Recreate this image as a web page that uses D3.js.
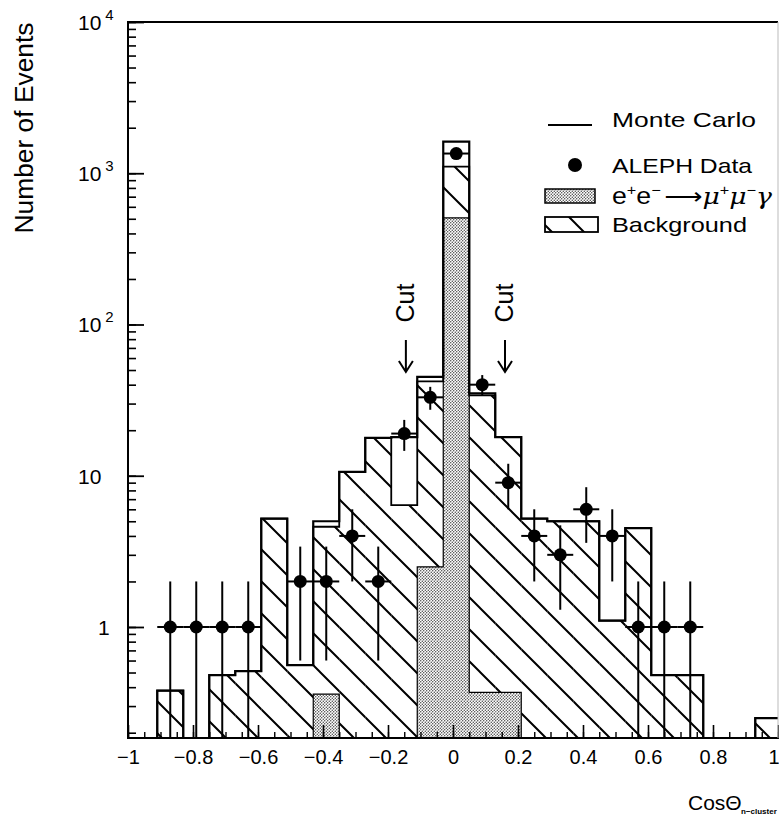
<!DOCTYPE html>
<html>
<head>
<meta charset="utf-8">
<script src="https://cdn.jsdelivr.net/npm/d3@7"></script>
<style>
  body { margin: 0; background: #fff; }
  text { font-family: "Liberation Sans", Arial, sans-serif; fill: #000; }
</style>
</head>
<body>
<div id="chart"></div>
<script>
// Histogram bins (bin centres in cos theta, width 0.08)
var binCenters = [-0.87, -0.79, -0.71, -0.63, -0.55, -0.47, -0.39, -0.31, -0.23, -0.15, -0.07, 0.01,
                  0.09, 0.17, 0.25, 0.33, 0.41, 0.49, 0.57, 0.65, 0.73, 0.81, 0.89, 0.97];
var binWidth = 0.08;

// Monte Carlo total, background and signal (e+e- -> mu+mu-gamma)
var mcTotal    = [0.38, 0, 0.48, 0.51, 5.2, 0.56, 5.0, 10.6, 17.8, 18, 45, 1620,
                  35, 18, 5.2, 5.0, 5.0, 1.1, 4.5, 0.48, 0.48, 0, 0, 0.25];
var background = [0.38, 0, 0.48, 0.51, 5.2, 0.56, 4.6, 10.6, 17.8, 6.4, 42, 1107,
                  34, 18, 5.2, 5.0, 5.0, 1.1, 4.5, 0.48, 0.48, 0, 0, 0.25];
var signal     = [0, 0, 0, 0, 0, 0, 0.36, 0, 0, 0, 2.5, 507,
                  0.37, 0.37, 0, 0, 0, 0, 0, 0, 0, 0, 0, 0];

// ALEPH data points and their errors
var alephData = [1, 1, 1, 1, 0, 2, 2, 4, 2, 19, 33, 1350, 40, 9, 4, 3, 6, 4, 1, 1, 1, 0, 0, 0];
var alephErr  = [1, 1, 1, 1, 0, 1.4, 1.4, 2, 1.4, 4.4, 5.7, 37, 6.3, 3, 2, 1.7, 2.4, 2, 1, 1, 1, 0, 0, 0];

// cut positions
var cutPositions = [-0.145, 0.16];

// tick labels
var xTickValues = [-1, -0.8, -0.6, -0.4, -0.2, 0, 0.2, 0.4, 0.6, 0.8, 1];
var xTickLabels = ["\u22121", "\u22120.8", "\u22120.6", "\u22120.4", "\u22120.2", "0", "0.2", "0.4", "0.6", "0.8", "1"];
var yTickValues = [1, 10, 100, 1000, 10000];
var yLabelBase = ["1", "10", "10", "10", "10"];
var yLabelExp  = ["", "", "2", "3", "4"];

// SVG area
var svgWidth = 779;
var svgHeight = 818;
var plot = { left: 128, right: 778, top: 22, bottom: 738 };

var svg = d3.select("#chart")
  .append("svg")
  .attr("width", svgWidth)
  .attr("height", svgHeight);

var defs = svg.append("defs");

// hatch pattern for background
var hatch = defs.append("pattern")
  .attr("id", "hatch")
  .attr("patternUnits", "userSpaceOnUse")
  .attr("width", 32).attr("height", 32);
hatch.append("path")
  .attr("d", "M0,0L32,32M0,-32L64,32M-32,0L32,64")
  .attr("stroke", "#000").attr("stroke-width", 2).attr("fill", "none");

// stipple pattern for signal
var stip = defs.append("pattern")
  .attr("id", "stipple")
  .attr("patternUnits", "userSpaceOnUse")
  .attr("width", 3).attr("height", 3);
stip.append("rect").attr("width", 3).attr("height", 3).attr("fill", "#fff");
stip.append("circle").attr("cx", 0.75).attr("cy", 0.75).attr("r", 0.7).attr("fill", "#333");
stip.append("circle").attr("cx", 2.25).attr("cy", 2.25).attr("r", 0.7).attr("fill", "#333");

defs.append("clipPath").attr("id", "plotClip")
  .append("rect")
  .attr("x", plot.left).attr("y", plot.top)
  .attr("width", plot.right - plot.left).attr("height", plot.bottom - plot.top);

// scales
var yMin = 0.1845, yMax = 10000;
var xScale = d3.scaleLinear().domain([-1, 1]).range([plot.left, plot.right]);
var yScale = d3.scaleLog().domain([yMin, yMax]).range([plot.bottom, plot.top]);

function yOf(v) { return v > 0 ? yScale(Math.max(v, yMin)) : plot.bottom; }
function binLeft(c) { return xScale(c - binWidth / 2); }
function binRight(c) { return xScale(c + binWidth / 2); }

function stepPath(values) {
  var pts = [];
  binCenters.forEach(function(c, i) {
    var y = yOf(values[i]);
    if (i === 0) pts.push([binLeft(c), plot.bottom]);
    pts.push([binLeft(c), y]);
    pts.push([binRight(c), y]);
    if (i === binCenters.length - 1) pts.push([binRight(c), plot.bottom]);
  });
  return d3.line()(pts);
}

var chartGroup = svg.append("g").attr("clip-path", "url(#plotClip)");

// background hatched bars
chartGroup.append("g").selectAll("rect")
  .data(binCenters).join("rect")
  .attr("x", d => binLeft(d))
  .attr("width", d => binRight(d) - binLeft(d))
  .attr("y", (d, i) => yOf(background[i]))
  .attr("height", (d, i) => plot.bottom - yOf(background[i]))
  .attr("fill", "url(#hatch)");

// signal stippled bars
chartGroup.append("g").selectAll("rect")
  .data(binCenters).join("rect")
  .attr("x", d => binLeft(d))
  .attr("width", d => binRight(d) - binLeft(d))
  .attr("y", (d, i) => yOf(signal[i]))
  .attr("height", (d, i) => plot.bottom - yOf(signal[i]))
  .attr("fill", "url(#stipple)");

// outlines
chartGroup.append("path").attr("d", stepPath(background))
  .attr("fill", "none").attr("stroke", "#000").attr("stroke-width", 1.8);
chartGroup.append("path").attr("d", stepPath(signal))
  .attr("fill", "none").attr("stroke", "#000").attr("stroke-width", 1.2);
chartGroup.append("path").attr("d", stepPath(mcTotal))
  .attr("fill", "none").attr("stroke", "#000").attr("stroke-width", 2.2);

// axes: ticks pointing inward
var yMinor = yScale.ticks();
var yMajor = yMinor.filter(d => Math.abs(Math.log10(d) - Math.round(Math.log10(d))) < 1e-9);

svg.append("g").attr("transform", `translate(${plot.left},0)`)
  .call(d3.axisRight(yScale).tickValues(yMinor).tickSize(8).tickFormat(""))
  .call(g => g.selectAll("line").attr("stroke-width", 1.6));
svg.append("g").attr("transform", `translate(${plot.left},0)`)
  .call(d3.axisRight(yScale).tickValues(yMajor).tickSize(16).tickFormat(""))
  .call(g => g.selectAll("line").attr("stroke-width", 1.8));

svg.append("g").attr("transform", `translate(0,${plot.bottom})`)
  .call(d3.axisTop(xScale).ticks(40).tickSize(6).tickFormat(""))
  .call(g => g.selectAll("line").attr("stroke-width", 1.4));
svg.append("g").attr("transform", `translate(0,${plot.bottom})`)
  .call(d3.axisTop(xScale).tickValues(xTickValues).tickSize(13).tickFormat(""))
  .call(g => g.selectAll("line").attr("stroke-width", 1.6));

// x tick labels
svg.append("g").attr("transform", `translate(0,${plot.bottom})`)
  .call(d3.axisBottom(xScale).tickValues(xTickValues).tickSize(0).tickPadding(12)
    .tickFormat((d, i) => xTickLabels[i]))
  .call(g => g.select(".domain").remove())
  .call(g => g.selectAll("text").attr("font-size", 20)
    .attr("font-family", "'DejaVu Sans', sans-serif")
    .attr("text-anchor", d => d === 1 ? "end" : "middle")
    .attr("dx", d => d === 1 ? 1 : 0));

// frame
svg.append("path")
  .attr("d", `M${plot.right},${plot.bottom}H${plot.left}V${plot.top}H${plot.right}`)
  .attr("fill", "none").attr("stroke", "#000").attr("stroke-width", 2);
svg.append("line")
  .attr("x1", plot.right).attr("x2", plot.right).attr("y1", plot.top).attr("y2", plot.bottom)
  .attr("stroke", "#bbb").attr("stroke-width", 1);

// y tick labels
var yLab = svg.append("g").selectAll("text")
  .data(yTickValues).join("text")
  .attr("x", (d, i) => yLabelBase[i] === "1" ? 98 : 78)
  .attr("y", d => yScale(d) + 8)
  .attr("font-size", 21)
  .text((d, i) => yLabelBase[i]);
yLab.append("tspan")
  .attr("dx", 4).attr("dy", -10)
  .attr("font-size", 15)
  .text((d, i) => yLabelExp[i]);

// axis titles
svg.append("text")
  .attr("transform", "translate(33,128) rotate(-90)")
  .attr("text-anchor", "middle")
  .attr("font-size", 26)
  .attr("textLength", 211).attr("lengthAdjust", "spacingAndGlyphs")
  .text("Number of Events");

svg.append("text").attr("x", 688).attr("y", 810).attr("font-size", 21)
  .text("Cos\u0398");
svg.append("text").attr("x", 741).attr("y", 814).attr("font-size", 8).attr("font-weight", "bold")
  .text("n\u2212cluster");

// data points
var pts = binCenters.map((c, i) => ({ c: c, n: alephData[i], e: alephErr[i] })).filter(d => d.n > 0);
var dataGroup = svg.append("g").attr("clip-path", "url(#plotClip)");
dataGroup.selectAll("line.v").data(pts).join("line")
  .attr("x1", d => xScale(d.c)).attr("x2", d => xScale(d.c))
  .attr("y1", d => d.n - d.e > 0 ? yScale(Math.max(d.n - d.e, yMin)) : plot.bottom)
  .attr("y2", d => yScale(d.n + d.e))
  .attr("stroke", "#000").attr("stroke-width", 2);
dataGroup.selectAll("line.h").data(pts).join("line")
  .attr("x1", d => binLeft(d.c)).attr("x2", d => binRight(d.c))
  .attr("y1", d => yScale(d.n)).attr("y2", d => yScale(d.n))
  .attr("stroke", "#000").attr("stroke-width", 2);
dataGroup.selectAll("circle").data(pts).join("circle")
  .attr("cx", d => xScale(d.c)).attr("cy", d => yScale(d.n))
  .attr("r", 6.5).attr("fill", "#000");

// cut markers
cutPositions.forEach(function(c) {
  var x = xScale(c);
  svg.append("text")
    .attr("transform", `translate(${x + 8},303) rotate(-90)`)
    .attr("text-anchor", "middle")
    .attr("font-size", 25)
    .text("Cut");
  svg.append("path")
    .attr("d", `M${x},340V372M${x - 7},361L${x},372L${x + 7},361`)
    .attr("fill", "none").attr("stroke", "#000").attr("stroke-width", 2);
});

// legend
var legend = svg.append("g");
legend.append("line").attr("x1", 548).attr("x2", 592).attr("y1", 125).attr("y2", 125)
  .attr("stroke", "#000").attr("stroke-width", 2);
legend.append("circle").attr("cx", 575).attr("cy", 165).attr("r", 7).attr("fill", "#000");
legend.append("rect").attr("x", 545).attr("y", 189).attr("width", 50).attr("height", 14)
  .attr("fill", "url(#stipple)").attr("stroke", "#000").attr("stroke-width", 1.5);
legend.append("rect").attr("x", 545).attr("y", 217).attr("width", 53).attr("height", 15)
  .attr("fill", "url(#hatch)").attr("stroke", "#000").attr("stroke-width", 1.8);

legend.append("text").attr("x", 612).attr("y", 127).attr("font-size", 21)
  .attr("textLength", 144).attr("lengthAdjust", "spacingAndGlyphs").text("Monte Carlo");
legend.append("text").attr("x", 612).attr("y", 173).attr("font-size", 21)
  .attr("textLength", 140).attr("lengthAdjust", "spacingAndGlyphs").text("ALEPH Data");
legend.append("text").attr("x", 612).attr("y", 232).attr("font-size", 21)
  .attr("textLength", 135).attr("lengthAdjust", "spacingAndGlyphs").text("Background");

var proc = legend.append("text").attr("x", 612).attr("y", 204).attr("font-size", 23)
  .attr("textLength", 160).attr("lengthAdjust", "spacingAndGlyphs");
proc.append("tspan").text("e");
proc.append("tspan").attr("dy", -9).attr("font-size", 14).text("+");
proc.append("tspan").attr("dy", 9).text("e");
proc.append("tspan").attr("dy", -9).attr("font-size", 14).text("\u2212");
proc.append("tspan").attr("dy", 9).attr("dx", 3).attr("font-size", 23)
  .attr("font-family", "'DejaVu Sans', sans-serif").text("\u27f6");
proc.append("tspan").attr("font-style", "italic").attr("font-family", "'DejaVu Serif', serif").text("\u03bc");
proc.append("tspan").attr("dy", -9).attr("font-size", 14).text("+");
proc.append("tspan").attr("dy", 9).attr("font-style", "italic").attr("font-family", "'DejaVu Serif', serif").text("\u03bc");
proc.append("tspan").attr("dy", -9).attr("font-size", 14).text("\u2212");
proc.append("tspan").attr("dy", 9).attr("font-style", "italic").attr("font-family", "'DejaVu Serif', serif").text("\u03b3");
</script>
</body>
</html>
